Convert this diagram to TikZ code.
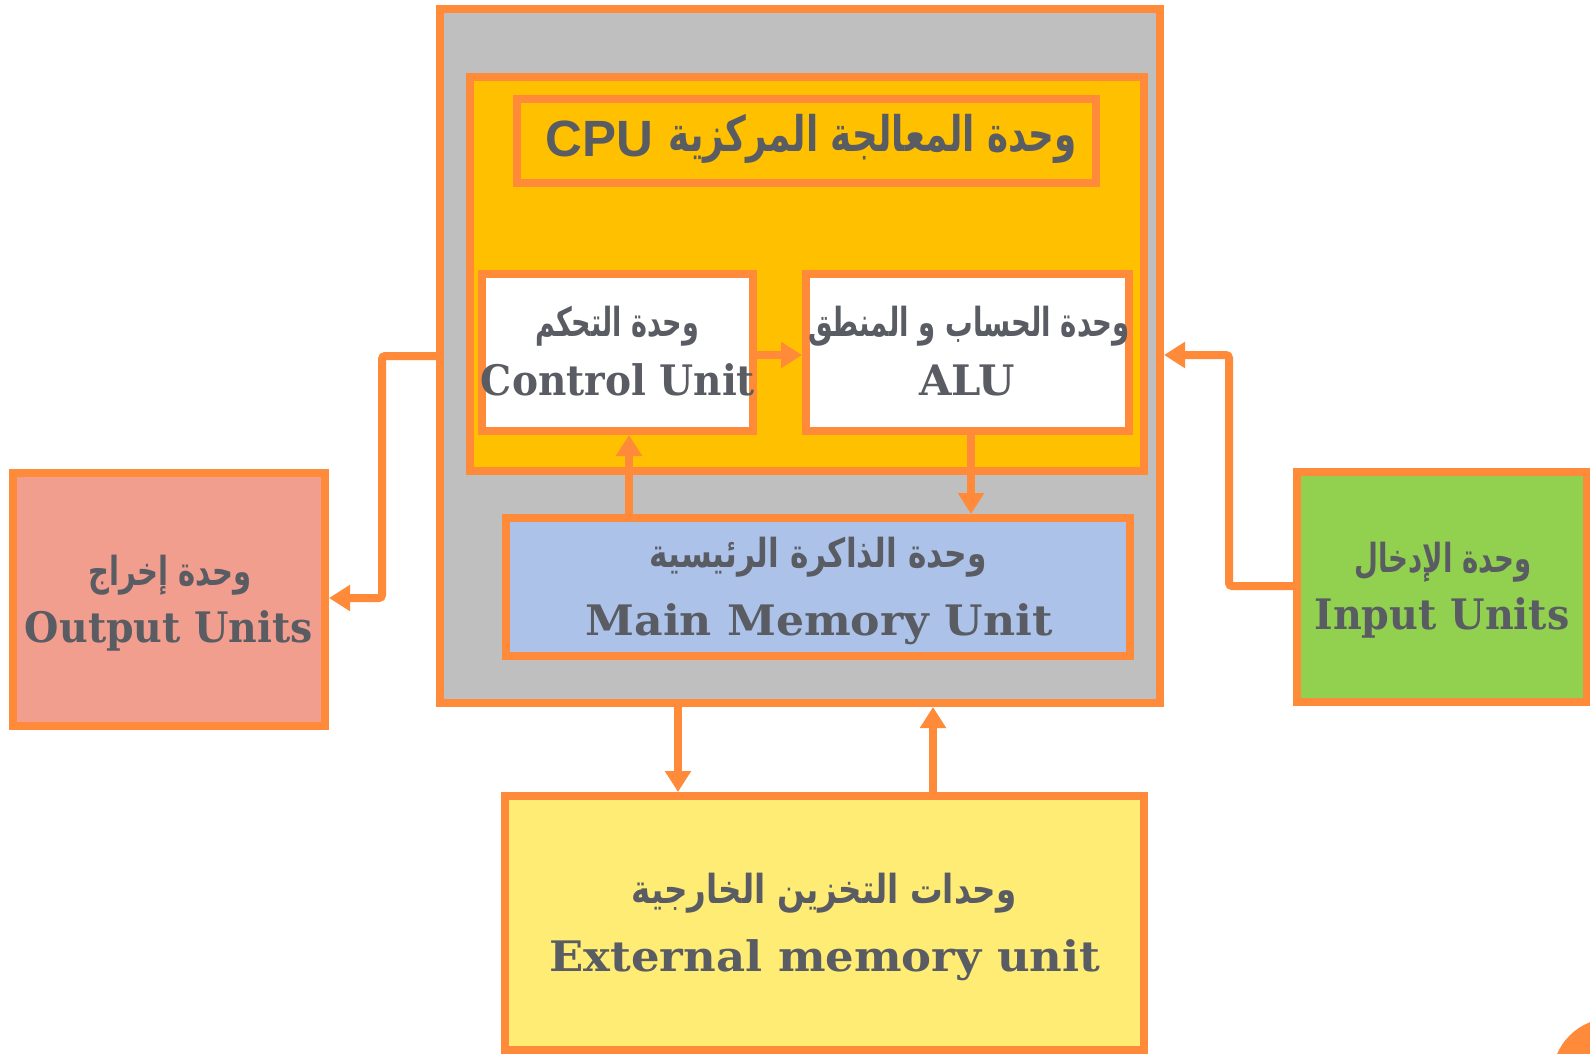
\documentclass[tikz,border=0pt]{standalone}
\usepackage{fontspec}
\usepackage{graphicx}
\setmainfont{DejaVu Serif}
\newfontfamily\arfont[Script=Arabic]{DejaVu Sans}
\newfontfamily\cpufont{Liberation Sans}
\TeXXeTstate=1
\usetikzlibrary{arrows.meta}
\definecolor{orng}{RGB}{255,138,58}
\definecolor{grayfill}{RGB}{191,191,191}
\definecolor{cpuyellow}{RGB}{255,192,0}
\definecolor{memblue}{RGB}{173,194,232}
\definecolor{outpink}{RGB}{241,158,143}
\definecolor{ingreen}{RGB}{146,208,80}
\definecolor{extyellow}{RGB}{255,236,117}
\definecolor{txt}{RGB}{89,92,99}
\newcommand{\arw}[2]{\resizebox{#1pt}{\height}{\arfont\bfseries\fontsize{40}{46}\selectfont #2}}
\newcommand{\enw}[2]{\resizebox{#1pt}{\height}{\bfseries\fontsize{42}{48}\selectfont #2}}
\begin{document}
\begin{tikzpicture}[x=1pt,y=-1pt,
  box/.style={draw=orng, line width=8pt, inner sep=0pt, rectangle},
  arr/.style={draw=orng, line width=8pt, -{Triangle[width=25pt,length=21pt]}},
  entxt/.style={text=txt, inner sep=0pt, anchor=base},
  artxt/.style={text=txt, inner sep=0pt},
]
\useasboundingbox (0,0) rectangle (1590,1053);
\fill[white] (0,0) rectangle (1590,1053);
\fill[orng] (1612,1078) circle (60);

% boxes
\node[box, fill=grayfill, minimum width=720pt, minimum height=694pt] (outer) at (800,356) {};
\node[box, fill=cpuyellow, minimum width=674pt, minimum height=394pt] (cpu) at (807,274) {};
\node[box, fill=cpuyellow, minimum width=579pt, minimum height=84pt] (title) at (806.5,141) {};
\node[box, fill=white, minimum width=271pt, minimum height=157pt] (ctrl) at (617.5,352.5) {};
\node[box, fill=white, minimum width=323pt, minimum height=157pt] (alu) at (967.5,352.5) {};
\node[box, fill=memblue, minimum width=624pt, minimum height=138pt] (mem) at (818,587) {};
\node[box, fill=outpink, minimum width=312pt, minimum height=253pt] (out) at (169,599) {};
\node[box, fill=ingreen, minimum width=290pt, minimum height=230pt] (in) at (1442,587) {};
\node[box, fill=extyellow, minimum width=639pt, minimum height=254pt] (ext) at (824.5,923) {};

% texts
\node[text=txt, inner sep=0pt, anchor=east] (titlear) at (1077,139) {\resizebox{408pt}{\height}{\arfont\bfseries\fontsize{49}{54}\selectfont\beginR وحدة المعالجة المركزية\endR}};
\node[text=txt, inner sep=0pt, anchor=west] (titlecpu) at (545,139) {\cpufont\bfseries\fontsize{51}{52}\selectfont CPU};
\node[artxt] (ctrlar) at (617,326) {\arw{164}{\beginR وحدة التحكم\endR}};
\node[entxt] (ctrlen) at (618,395) {\enw{274}{Control Unit}};
\node[artxt] (aluar) at (969,326) {\arw{322}{\beginR وحدة الحساب و المنطق\endR}};
\node[entxt] (aluen) at (967,395) {\enw{96}{ALU}};
\node[artxt] (memar) at (818,557) {\arw{337}{\beginR وحدة الذاكرة الرئيسية\endR}};
\node[entxt] (memen) at (819,635) {\enw{467}{Main Memory Unit}};
\node[artxt] (outar) at (170,575) {\arw{163}{\beginR وحدة إخراج\endR}};
\node[entxt] (outen) at (169,642) {\enw{288}{Output Units}};
\node[artxt] (inar) at (1443,562) {\arw{177}{\beginR وحدة الإدخال\endR}};
\node[entxt] (inen) at (1442,629) {\enw{255}{Input Units}};
\node[artxt] (extar) at (824,893) {\arw{385}{\beginR وحدات التخزين الخارجية\endR}};
\node[entxt] (exten) at (825,971) {\enw{551}{External memory unit}};

% connector coordinates
\coordinate (xa) at (629,0);
\coordinate (xb) at (971,0);
\coordinate (xc) at (678,0);
\coordinate (xd) at (933,0);
\coordinate (ya) at (0,356);
\coordinate (yb) at (0,598);
\coordinate (yc) at (0,586);
\coordinate (yd) at (0,355);
\coordinate (ye) at (0,355);
\coordinate (lbend) at (382,0);
\coordinate (rbend) at (1229,0);

\draw[arr] (ctrl.east |- ye) -- (alu.west |- ye);
\draw[arr] (xa |- mem.north) -- (xa |- ctrl.south);
\draw[arr] (xb |- alu.south) -- (xb |- mem.north);
\draw[arr, rounded corners=3pt] (outer.west |- ya) -- (lbend |- ya) -- (lbend |- yb) -- (out.east |- yb);
\draw[arr, rounded corners=3pt] (in.west |- yc) -- (rbend |- yc) -- (rbend |- yd) -- (outer.east |- yd);
\draw[arr] ([yshift=4pt]xc |- outer.south) -- (xc |- ext.north);
\draw[arr] (xd |- ext.north) -- (xd |- outer.south);
\end{tikzpicture}
\end{document}
